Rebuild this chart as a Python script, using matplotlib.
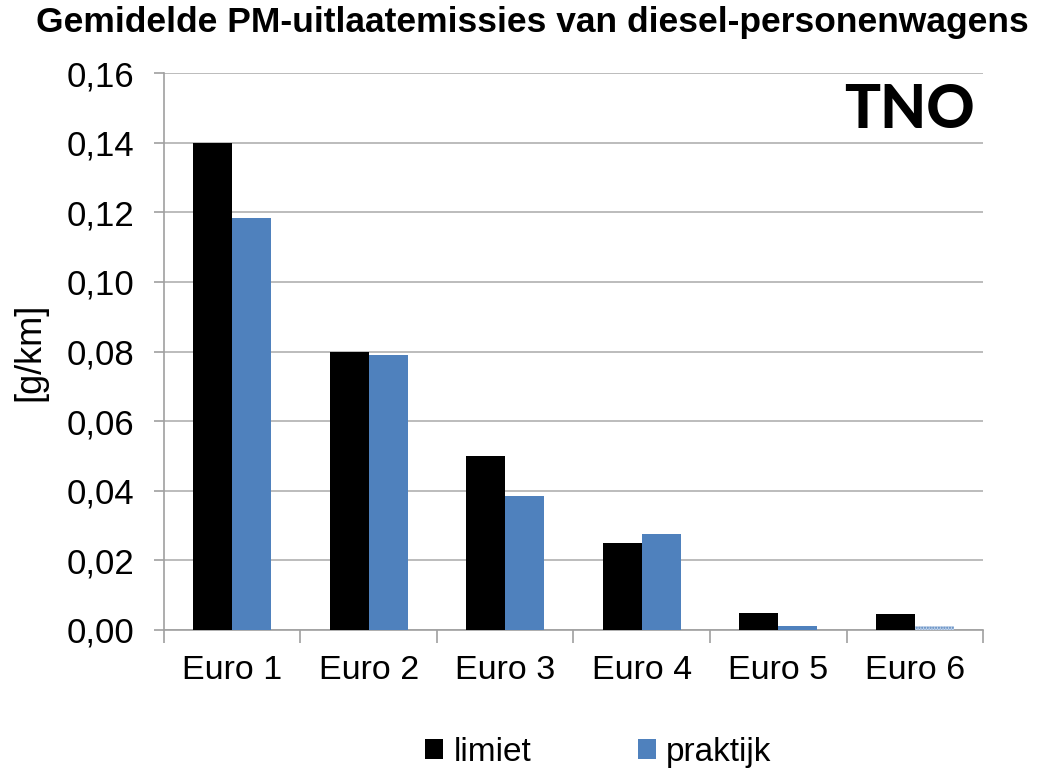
import matplotlib
matplotlib.use("Agg")
import matplotlib.pyplot as plt
import numpy as np

categories = ["Euro 1", "Euro 2", "Euro 3", "Euro 4", "Euro 5", "Euro 6"]
limiet = [0.14, 0.08, 0.05, 0.025, 0.005, 0.0045]
praktijk = [0.1183, 0.079, 0.0385, 0.0277, 0.001, 0.001]
yticks = [0.0, 0.02, 0.04, 0.06, 0.08, 0.10, 0.12, 0.14, 0.16]
ytick_labels = ["0,00", "0,02", "0,04", "0,06", "0,08", "0,10", "0,12", "0,14", "0,16"]

plt.rcParams['font.family'] = ['Liberation Sans', 'DejaVu Sans']

fig = plt.figure(figsize=(10.37, 7.71), dpi=100)
ax = fig.add_axes([0.158, 0.183, 0.790, 0.722])

x = np.arange(len(categories))
w = 0.285
blue = "#4F81BD"
ax.bar(x - w/2, limiet, w, color="black", label="limiet", zorder=3)
bars = ax.bar(x + w/2, praktijk, w, color=blue, label="praktijk", zorder=3)
bars[-1].set_facecolor("#c5d5ea")
bars[-1].set_hatch("......")
bars[-1].set_edgecolor(blue)
bars[-1].set_linewidth(0)

ax.set_xlim(-0.5, len(categories) - 0.5)
ax.set_ylim(0, 0.16)
ax.set_yticks(yticks)
ax.set_yticklabels(ytick_labels, fontsize=25)
ax.set_xticks(x)
ax.set_xticklabels(categories, fontsize=24.5)
ax.tick_params(axis='x', length=0, pad=18)
ax.set_xticks(np.arange(-0.5, len(categories)), minor=True)
ax.tick_params(axis='x', which='minor', length=9, color="#a0a0a0", width=1.2)
ax.tick_params(axis='y', length=7, color="#a0a0a0", width=1.2, pad=14)
ax.grid(axis='y', color="#b0b0b0", linewidth=1.2, zorder=0)
for s in ["top", "right"]:
    ax.spines[s].set_visible(False)
ax.spines["left"].set_color("#a0a0a0")
ax.spines["bottom"].set_color("#a0a0a0")
ax.spines["left"].set_linewidth(1.2)
ax.spines["bottom"].set_linewidth(1.2)

ax.set_ylabel("[g/km]", fontsize=26, labelpad=14)

fig.text(0.513, 0.971, "Gemidelde PM-uitlaatemissies van diesel-personenwagens",
         ha="center", va="center", fontsize=25.5, fontweight="bold")

fig.text(0.877, 0.857, "TNO", ha="center", va="center", fontsize=43,
         fontweight="black", family=["Lato", "DejaVu Sans"], color="black")

leg = fig.legend(loc="center", bbox_to_anchor=(0.577, 0.024), ncol=2, frameon=False,
                 fontsize=24, handlelength=0.55, handleheight=0.55, columnspacing=3.2,
                 handletextpad=0.3)

fig.savefig("out.png", dpi=100)
